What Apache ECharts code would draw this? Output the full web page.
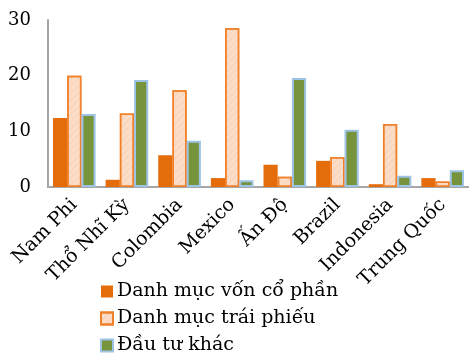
<!DOCTYPE html>
<html><head><meta charset="utf-8">
<script src="https://cdn.jsdelivr.net/npm/echarts@6/dist/echarts.min.js"></script>
<style>html,body{margin:0;padding:0;background:#fff}#c{width:469px;height:356px}</style>
</head><body><div id="c"></div>
<script>
const categories = ['Nam Phi','Thổ Nhĩ Kỳ','Colombia','Mexico','Ấn Độ','Brazil','Indonesia','Trung Quốc'];
const equity = [12.4, 1.3, 5.7, 1.6, 4.0, 4.7, 0.5, 1.6];
const bonds = [20.0, 13.2, 17.4, 28.5, 1.85, 5.4, 11.3, 1.0];
const other = [13.1, 19.2, 8.3, 1.2, 19.6, 10.3, 2.0, 3.0];
const seriesNames = ['Danh mục vốn cổ phần','Danh mục trái phiếu','Đầu tư khác'];
const yTicks = [0, 10, 20, 30];

const font = '"DejaVu Serif", "Liberation Serif", serif';
const chart = echarts.init(document.getElementById('c'));
chart.setOption({
  animation: false,
  textStyle: {fontFamily: font},
  grid: {left: 48, right: -5, top: 20, bottom: 169},
  legend: {
    orient: 'vertical', left: 100, top: 282, padding: 0, height: 80,
    itemWidth: 12, itemHeight: 12, itemGap: 8,
    icon: 'rect',
    textStyle: {fontFamily: font, fontSize: 19, color: '#000', padding: [0,0,0,-1]},
    data: seriesNames
  },
  xAxis: {
    type: 'category', data: categories,
    axisLine: {lineStyle: {color: '#a6a6a6', width: 2}},
    axisTick: {show: false},
    axisLabel: {rotate: 45, interval: 0, fontFamily: font, fontSize: 19, color: '#000', margin: 15}
  },
  yAxis: {
    type: 'value', min: yTicks[0], max: yTicks[yTicks.length-1], interval: 10,
    axisLine: {show: true, lineStyle: {color: '#a6a6a6', width: 2}},
    axisTick: {show: false},
    splitLine: {show: false},
    axisLabel: {fontFamily: font, fontSize: 18, color: '#000', margin: 17}
  },
  series: [
    {name: seriesNames[0], type: 'bar', data: equity, barGap: '0%', barCategoryGap: '19%',
     itemStyle: {color: '#E46C0A'}},
    {name: seriesNames[1], type: 'bar', data: bonds,
     itemStyle: {color: '#FBDDC8', borderColor: '#F0812A', borderWidth: 1.5,
       decal: {symbol: 'rect', color: 'rgba(228,108,10,0.06)', dashArrayX: [1,0], dashArrayY: [1.5,2.5], rotation: -Math.PI/4}}},
    {name: seriesNames[2], type: 'bar', data: other,
     itemStyle: {color: '#77933C', borderColor: '#9DC3E6', borderWidth: 2}}
  ]
});
</script></body></html>
